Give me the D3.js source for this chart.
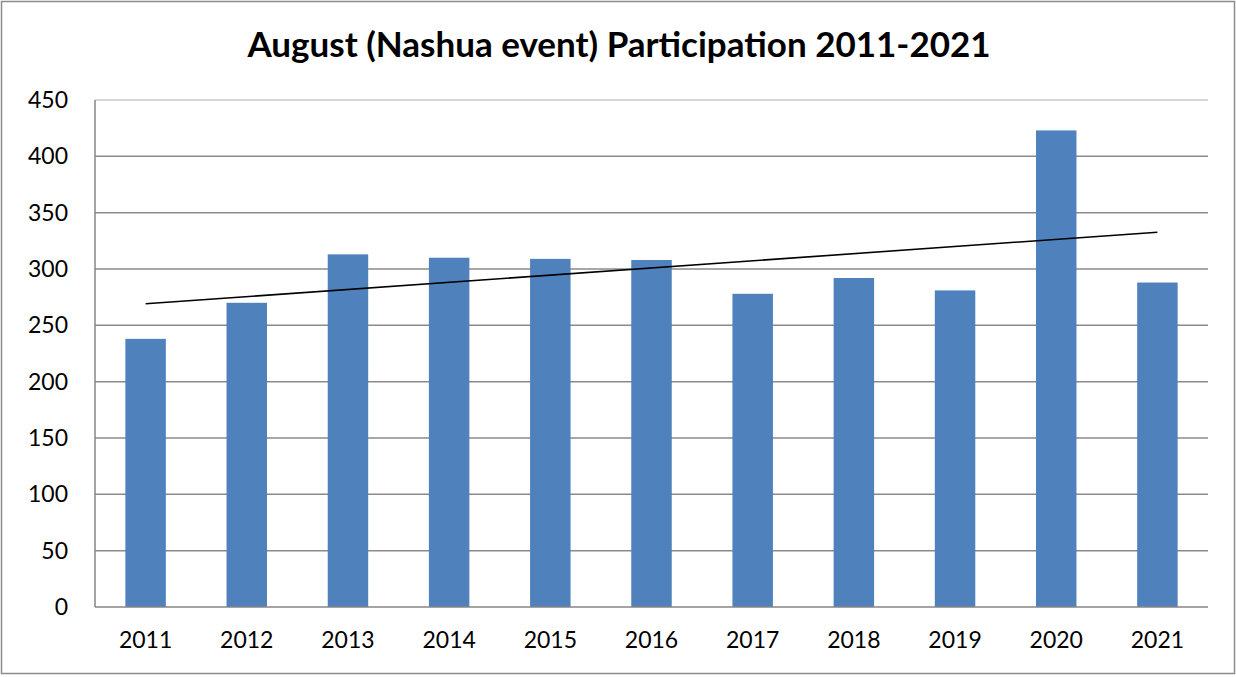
<!DOCTYPE html>
<html>
<head>
<meta charset="utf-8">
<script src="https://cdn.jsdelivr.net/npm/d3@7"></script>
<style>
  body { margin: 0; background: #fff; }
  svg { display: block; font-family: Lato, "Open Sans", sans-serif; }
</style>
</head>
<body>
<svg id="chart" width="1236" height="677"></svg>
<script>
var years = ["2011", "2012", "2013", "2014", "2015", "2016", "2017", "2018", "2019", "2020", "2021"];
var participants = [238, 270, 313, 310, 309, 308, 278, 292, 281, 423, 288];
var yTicks = [0, 50, 100, 150, 200, 250, 300, 350, 400, 450];
var title = "August (Nashua event) Participation 2011-2021";

var svg = d3.select("#chart");
var margin = {top: 100, right: 28, bottom: 70, left: 95};
var width = +svg.attr("width") - margin.left - margin.right;
var height = +svg.attr("height") - margin.top - margin.bottom;

// outer frame
svg.append("rect")
    .attr("x", 1.5).attr("y", 1.5)
    .attr("width", 1233).attr("height", 672)
    .attr("fill", "#fff")
    .attr("stroke", "#8c8c8c")
    .attr("stroke-width", 1.5);

svg.append("text")
    .attr("x", 619).attr("y", 57)
    .attr("text-anchor", "middle")
    .attr("font-size", 35)
    .attr("font-weight", 700)
    .attr("fill", "#000")
    .text(title);

var g = svg.append("g").attr("transform", "translate(" + margin.left + "," + margin.top + ")");

var x = d3.scaleBand()
    .domain(years)
    .range([0, width])
    .paddingInner(0.6)
    .paddingOuter(0.3);

var y = d3.scaleLinear()
    .domain([0, 450])
    .range([height, 0]);

// gridlines
g.selectAll(".grid")
  .data(yTicks.filter(function(d) { return d > 0; }))
  .enter().append("line")
    .attr("class", "grid")
    .attr("x1", 0).attr("x2", width)
    .attr("y1", function(d) { return y(d); })
    .attr("y2", function(d) { return y(d); })
    .attr("stroke", function(d) { return d === 450 ? "#c8c8c8" : "#8a8a8a"; })
    .attr("stroke-width", 1.5);

g.selectAll(".bar")
  .data(participants)
  .enter().append("rect")
    .attr("class", "bar")
    .attr("x", function(d, i) { return x(years[i]); })
    .attr("y", function(d) { return y(d); })
    .attr("width", x.bandwidth())
    .attr("height", function(d) { return height - y(d); })
    .attr("fill", "#4f81bd");

// linear trendline from the data
var n = participants.length;
var mx = d3.mean(d3.range(n));
var my = d3.mean(participants);
var sxy = d3.sum(participants, function(d, i) { return (i - mx) * (d - my); });
var sxx = d3.sum(d3.range(n), function(i) { return (i - mx) * (i - mx); });
var slope = sxy / sxx;
var icpt = my - slope * mx;
var cx = function(i) { return x(years[i]) + x.bandwidth() / 2; };

g.append("line")
    .attr("x1", cx(0)).attr("y1", y(icpt))
    .attr("x2", cx(n - 1)).attr("y2", y(icpt + slope * (n - 1)))
    .attr("stroke", "#000")
    .attr("stroke-width", 1.6);

// axes
g.append("line")
    .attr("x1", 0).attr("x2", 0).attr("y1", 0).attr("y2", height)
    .attr("stroke", "#868686").attr("stroke-width", 1.5);
g.append("line")
    .attr("x1", 0).attr("x2", width).attr("y1", height).attr("y2", height)
    .attr("stroke", "#868686").attr("stroke-width", 1.5);

g.append("g")
    .call(d3.axisLeft(y).tickValues(yTicks).tickSize(0).tickPadding(27))
    .call(function(a) { a.select(".domain").remove(); })
    .selectAll("text")
    .attr("font-size", 23)
    .attr("font-family", "Lato, sans-serif")
    .attr("fill", "#000");

g.append("g")
    .attr("transform", "translate(0," + height + ")")
    .call(d3.axisBottom(x).tickSize(0).tickPadding(25))
    .call(function(a) { a.select(".domain").remove(); })
    .selectAll("text")
    .attr("font-size", 23)
    .attr("font-family", "Lato, sans-serif")
    .attr("fill", "#000");
</script>
</body>
</html>
